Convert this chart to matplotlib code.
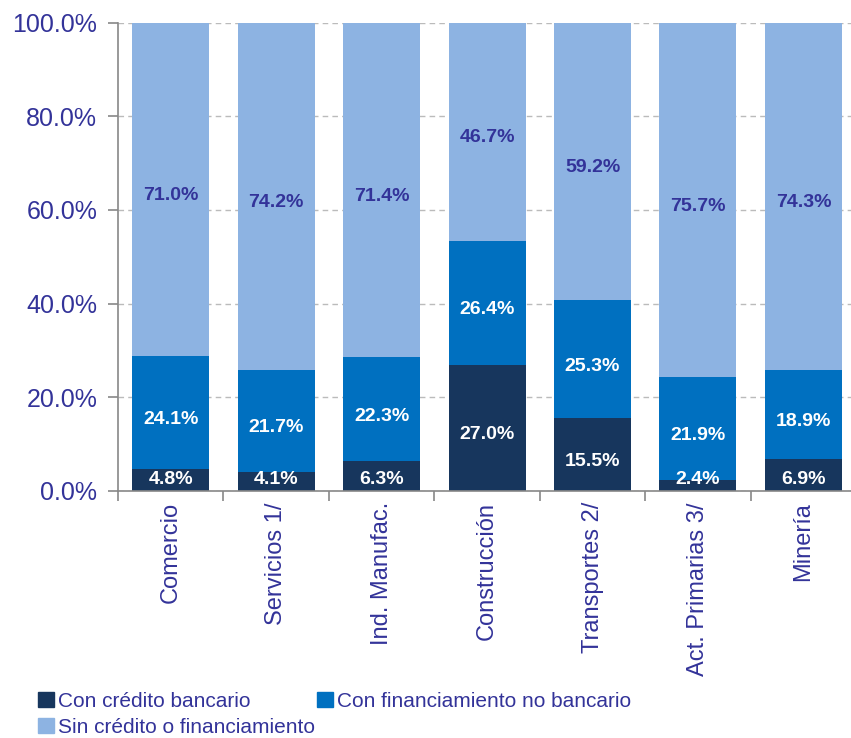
import matplotlib
matplotlib.use("Agg")
import matplotlib.pyplot as plt
from matplotlib.patches import Patch
import numpy as np

# Share of firms by financing source, per sector (%)
sectors = ["Comercio", "Servicios 1/", "Ind. Manufac.", "Construcción",
           "Transportes 2/", "Act. Primarias 3/", "Minería"]
con_credito = [4.8, 4.1, 6.3, 27.0, 15.5, 2.4, 6.9]
no_bancario = [24.1, 21.7, 22.3, 26.4, 25.3, 21.9, 18.9]
sin_credito = [71.0, 74.2, 71.4, 46.7, 59.2, 75.7, 74.3]

series_names = ["Con crédito bancario", "Con financiamiento no bancario",
                "Sin crédito o financiamiento"]

c_dark = "#17365D"
c_mid = "#0070C0"
c_light = "#8DB3E2"
c_text = "#333399"

plt.rcParams["font.family"] = ["Liberation Sans", "DejaVu Sans"]

fig = plt.figure(figsize=(8.51, 7.38), dpi=100)
ax = fig.add_axes([0.1387, 0.3347, 0.8673, 0.6348])

x = np.arange(len(sectors))
w = 0.73
b1 = np.array(con_credito)
b2 = np.array(no_bancario)
b3 = np.array(sin_credito)

ax.bar(x, b1, w, color=c_dark, zorder=2)
ax.bar(x, b2, w, bottom=b1, color=c_mid, zorder=2)
ax.bar(x, b3, w, bottom=b1 + b2, color=c_light, zorder=2)

# value labels, centred in each segment (small segments get pushed up a bit)
lbl = dict(ha="center", va="center", fontsize=14, fontweight="bold", zorder=3)
for i in range(len(sectors)):
    y1 = max(b1[i] / 2 - 1.5, 2.4)
    ax.text(x[i], y1, f"{b1[i]:.1f}%", color="white", **lbl)
    ax.text(x[i], b1[i] + b2[i] / 2 - 1.5, f"{b2[i]:.1f}%", color="white", **lbl)
    ax.text(x[i], b1[i] + b2[i] + b3[i] / 2 - 1.4, f"{b3[i]:.1f}%", color=c_text, **lbl)

ax.set_xlim(-0.5, len(sectors) - 0.5)
ax.set_ylim(0, 100)
ax.set_yticks(np.arange(0, 101, 20))
ax.set_yticklabels([f"{v:.1f}%" for v in range(0, 101, 20)])
ax.yaxis.grid(True, linestyle=(0, (4, 3)), color="#BBBBBB", linewidth=1, zorder=0)
ax.set_axisbelow(True)

ax.set_xticks(x)
ax.set_xticklabels(sectors, rotation=90, va="top", ha="center")
ax.set_xticks(np.arange(len(sectors) + 1) - 0.5, minor=True)
ax.tick_params(axis="x", which="major", length=0, pad=8, labelsize=17, labelcolor=c_text)
ax.tick_params(axis="x", which="minor", length=7, width=1.2, color="#888888", direction="out")
ax.tick_params(axis="y", length=7, width=1.2, color="#888888", direction="out",
               labelsize=18, labelcolor=c_text, pad=8)

for side in ["top", "right"]:
    ax.spines[side].set_visible(False)
for side in ["left", "bottom"]:
    ax.spines[side].set_color("#888888")
    ax.spines[side].set_linewidth(1.2)

# legend laid out row by row
handles = [Patch(color=c_dark), Patch(color=c_light), Patch(color=c_mid)]
labels = [series_names[0], series_names[2], series_names[1]]
fig.legend(handles, labels, ncol=2, loc="upper left", bbox_to_anchor=(0.045, 0.063),
           frameon=False, handlelength=0.75, handleheight=0.75, handletextpad=0.2,
           columnspacing=0.1, labelspacing=0.35, borderaxespad=0, borderpad=0,
           prop={"size": 15}, labelcolor=c_text)

fig.savefig("out.png", dpi=100)
